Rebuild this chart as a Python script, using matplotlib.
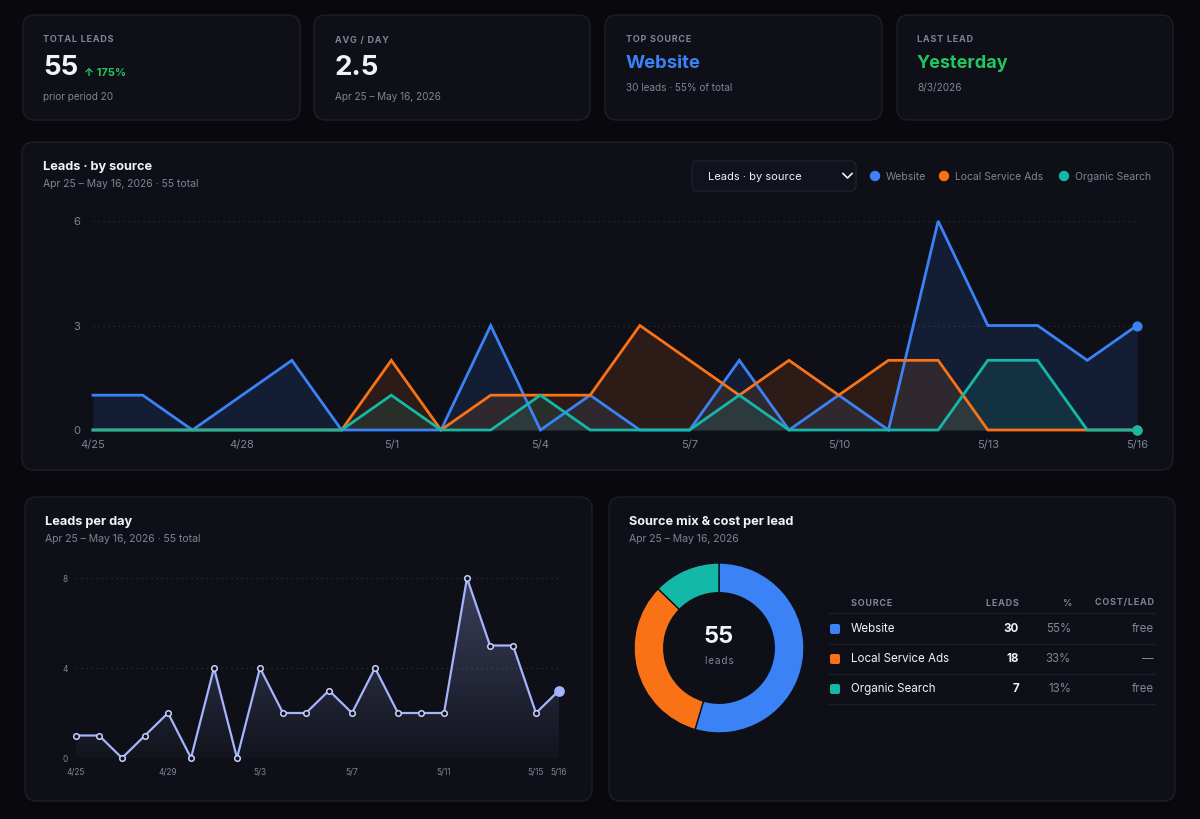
import numpy as np
import matplotlib
matplotlib.use('Agg')
import matplotlib.pyplot as plt
from matplotlib.patches import FancyBboxPatch, Circle

plt.rcParams['font.family'] = ['Inter', 'DejaVu Sans']

W, H = 1200, 819

# data
days = ['4/25', '4/26', '4/27', '4/28', '4/29', '4/30', '5/1', '5/2', '5/3', '5/4', '5/5',
        '5/6', '5/7', '5/8', '5/9', '5/10', '5/11', '5/12', '5/13', '5/14', '5/15', '5/16']
website = [1, 1, 0, 1, 2, 0, 0, 0, 3, 0, 1, 0, 0, 2, 0, 1, 0, 6, 3, 3, 2, 3]
local_ads = [0, 0, 0, 0, 0, 0, 2, 0, 1, 1, 1, 3, 2, 1, 2, 1, 2, 2, 0, 0, 0, 0]
organic = [0, 0, 0, 0, 0, 0, 1, 0, 0, 1, 0, 0, 0, 1, 0, 0, 0, 0, 2, 2, 0, 0]
per_day = [1, 1, 0, 1, 2, 0, 4, 0, 4, 2, 2, 3, 2, 4, 2, 2, 2, 8, 5, 5, 2, 3]

sources = ['Website', 'Local Service Ads', 'Organic Search']
source_leads = [30, 18, 7]
source_cost = ['free', '\u2014', 'free']
total = 55

BG = '#09090d'
CARD = '#0e0f17'
EDGE = '#1c1e29'
WHITE = '#f1f3f7'
GRAY = '#7d8596'
GRID = '#2c2f3c'
BLUE = '#3b82f6'
ORANGE = '#f97316'
TEAL = '#14b8a6'
GREEN = '#22c55e'
LAV = '#a5b4fc'
src_colors = [BLUE, ORANGE, TEAL]

fig = plt.figure(figsize=(12, 8.19), dpi=100, facecolor=BG)
bg = fig.add_axes([0, 0, 1, 1])
bg.set_xlim(0, W)
bg.set_ylim(H, 0)
bg.axis('off')
bg.set_zorder(0)


def card(x0, y0, x1, y1):
    bg.add_patch(FancyBboxPatch((x0, y0), x1 - x0, y1 - y0,
                                boxstyle='round,pad=0,rounding_size=12',
                                fc=CARD, ec=EDGE, lw=1))


def px_axes(x0, y0, x1, y1):
    ax = fig.add_axes([x0 / W, 1 - y1 / H, (x1 - x0) / W, (y1 - y0) / H])
    ax.set_facecolor('none')
    ax.set_zorder(2)
    return ax


def txt(x, y, s, size, color=WHITE, weight='normal', ha='left'):
    bg.text(x, y, s, fontsize=size, color=color, fontweight=weight, ha=ha, va='center')


def spaced(s):
    # small caps labels are letter-spaced in the dashboard
    return '\u200a'.join(s)


# KPI cards
card(23, 15, 300, 120)
txt(43, 40, spaced('TOTAL LEADS'), 6.5, GRAY, 'bold')
txt(43, 68, '55', 20, WHITE, 'bold')
txt(84, 73, '\u2191 175%', 8, GREEN, 'bold')
txt(43, 97, 'prior period 20', 7.2, GRAY)

card(314, 15, 590, 120)
txt(335, 40, spaced('AVG / DAY'), 6.5, GRAY, 'bold')
txt(335, 68, '2.5', 20, WHITE, 'bold')
txt(335, 97, 'Apr 25 \u2013 May 16, 2026', 7.2, GRAY)

card(605, 15, 882, 120)
txt(626, 40, spaced('TOP SOURCE'), 6.5, GRAY, 'bold')
txt(626, 63, 'Website', 13.3, BLUE, 'bold')
txt(626, 88, '30 leads \u00b7 55% of total', 7.2, GRAY)

card(897, 15, 1173, 120)
txt(917, 40, spaced('LAST LEAD'), 6.5, GRAY, 'bold')
txt(917, 63, 'Yesterday', 13, GREEN, 'bold')
txt(917, 88, '8/3/2026', 7.2, GRAY)

# main chart card
card(22, 142, 1173, 470)
txt(43, 167, 'Leads \u00b7 by source', 9.2, WHITE, 'bold')
txt(43, 184, 'Apr 25 \u2013 May 16, 2026 \u00b7 55 total', 7.5, GRAY)
bg.add_patch(FancyBboxPatch((692, 161), 164, 30, boxstyle='round,pad=0,rounding_size=6',
                            fc='#11121b', ec='#1f212c', lw=1))
txt(708, 177, 'Leads \u00b7 by source', 8, WHITE)
bg.plot([843, 847.5, 852], [173.5, 178, 173.5], color=WHITE, lw=1.2)
for lx, name, c in zip([875, 944, 1064], sources, src_colors):
    bg.add_patch(Circle((lx, 176), 4.5, color=c))
    txt(lx + 11, 176.5, name, 7.5, GRAY)

x = np.arange(len(days))
ax = px_axes(93, 221, 1137, 430)
ax.set_xlim(0, len(days) - 1)
ax.set_ylim(0, 6)
for gy in [0, 3, 6]:
    ax.axhline(gy, color=GRID, lw=0.9, ls=(0, (1, 3)), zorder=0)
for series, c in zip([website, local_ads, organic], src_colors):
    ax.fill_between(x, series, 0, color=c, alpha=0.13, lw=0, clip_on=False)
    ax.plot(x, series, color=c, lw=2, clip_on=False, solid_joinstyle='miter')
    ax.scatter([x[-1]], [series[-1]], s=40, color=c, zorder=5, clip_on=False)
ax.set_yticks([0, 3, 6])
ax.set_xticks(x[::3])
ax.set_xticklabels(days[::3])
ax.tick_params(length=0, colors=GRAY, labelsize=8)
ax.tick_params(axis='x', pad=7)
ax.tick_params(axis='y', pad=9)
for s in ax.spines.values():
    s.set_visible(False)

# leads per day card
card(25, 497, 592, 801)
txt(45, 522, 'Leads per day', 9.2, WHITE, 'bold')
txt(45, 539, 'Apr 25 \u2013 May 16, 2026 \u00b7 55 total', 7.5, GRAY)

ax2 = px_axes(76, 578, 559, 758)
ax2.set_xlim(0, len(days) - 1)
ax2.set_ylim(0, 8)
for gy in [0, 4, 8]:
    ax2.axhline(gy, color=GRID, lw=0.9, ls=(0, (1, 3)), zorder=0)
poly = ax2.fill_between(x, per_day, 0, color='none', lw=0)
grad = np.linspace(0, 1, 256).reshape(-1, 1)
rgba = np.zeros((256, 1, 4))
rgba[..., :3] = matplotlib.colors.to_rgb(LAV)
rgba[..., 3] = 0.03 + 0.27 * grad
im = ax2.imshow(rgba, extent=[0, len(days) - 1, 0, 8], origin='lower', aspect='auto', zorder=1)
im.set_clip_path(poly.get_paths()[0], transform=ax2.transData)
ax2.plot(x, per_day, color=LAV, lw=1.6, zorder=3, clip_on=False)
ax2.scatter(x[:-1], per_day[:-1], s=16, facecolor=CARD, edgecolor='#c7d2fe', lw=1.1,
            zorder=4, clip_on=False)
ax2.scatter([x[-1]], [per_day[-1]], s=45, color=LAV, zorder=5, clip_on=False)
ticks2 = [0, 4, 8, 12, 16, 20, 21]
ax2.set_xticks(ticks2)
ax2.set_xticklabels([days[i] for i in ticks2])
ax2.set_yticks([0, 4, 8])
ax2.tick_params(length=0, colors=GRAY, labelsize=6)
ax2.tick_params(axis='x', pad=7)
ax2.tick_params(axis='y', pad=6)
for s in ax2.spines.values():
    s.set_visible(False)

# source mix card
card(609, 497, 1175, 801)
txt(629, 522, 'Source mix & cost per lead', 9.2, WHITE, 'bold')
txt(629, 539, 'Apr 25 \u2013 May 16, 2026', 7.5, GRAY)

ax3 = px_axes(634, 563, 804, 733)
ax3.pie(source_leads, colors=src_colors, startangle=90, counterclock=False, radius=1,
        wedgeprops=dict(width=0.35, edgecolor=CARD, linewidth=1))
ax3.set_xlim(-1, 1)
ax3.set_ylim(-1, 1)
ax3.set_aspect('equal')
ax3.axis('off')
txt(719, 637, str(total), 17, WHITE, 'bold', 'center')
txt(719, 661, spaced('leads'), 7.2, GRAY, 'normal', 'center')

# table
txt(851, 603, spaced('SOURCE'), 6.5, GRAY, 'bold')
txt(1019, 603, spaced('LEADS'), 6.5, GRAY, 'bold', 'right')
txt(1071, 603, '%', 6.5, GRAY, 'bold', 'right')
txt(1154, 603, spaced('COST/LEAD'), 6.5, GRAY, 'bold', 'right')
bg.plot([829, 1155], [613, 613], color=EDGE, lw=1)
for i, (name, n, cost, c) in enumerate(zip(sources, source_leads, source_cost, src_colors)):
    ry = 629 + 30 * i
    bg.add_patch(FancyBboxPatch((830, ry - 5), 10, 10, boxstyle='round,pad=0,rounding_size=2',
                                fc=c, ec='none'))
    txt(851, ry, name, 8.3, WHITE)
    txt(1019, ry, str(n), 8.3, WHITE, 'bold', 'right')
    txt(1071, ry, f'{round(100 * n / total)}%', 8.3, GRAY, 'normal', 'right')
    txt(1154, ry, cost, 8.3, GRAY, 'normal', 'right')
    bg.plot([829, 1155], [ry + 15, ry + 15], color=EDGE, lw=1)

fig.savefig('out.png', dpi=100, facecolor=BG)
